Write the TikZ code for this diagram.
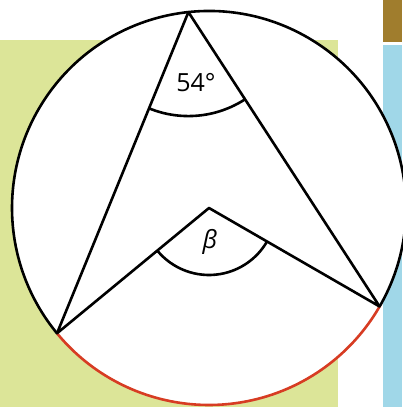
\documentclass[tikz,border=0pt]{standalone}
\usepackage{fontspec}
\newfontfamily\labelfont{Open Sans}
\usetikzlibrary{angles,calc}
\definecolor{bggreen}{RGB}{220,229,152}
\definecolor{bgblue}{RGB}{160,215,232}
\definecolor{bgbrown}{RGB}{160,125,45}
\definecolor{arcred}{RGB}{215,60,35}
\tikzset{
  edge/.style={line width=2.6pt, line join=round, draw=black},
  marker/.style={draw=black, line width=2.6pt},
  lbl/.style={font=\labelfont\fontsize{25}{30}\selectfont, inner sep=0pt}
}
\begin{document}
\begin{tikzpicture}[x=1pt,y=1pt]
\useasboundingbox (0,0) rectangle (402,407);
\fill[bggreen] (0,0) rectangle (338,367);
\fill[bgblue] (383,0) rectangle (402,362);
\fill[bgbrown] (383,365) rectangle (402,407);
\coordinate (O) at (209,199);
\fill[white] (O) circle[radius=197pt];
\coordinate (T) at ($(O)+(96:197pt)$);
\coordinate (L) at ($(O)+(219.5:197pt)$);
\coordinate (R) at ($(O)+(330:197pt)$);
\draw[edge] (R) arc[start angle=330, end angle=579.5, radius=197pt];
\draw[edge, draw=arcred] (L) arc[start angle=219.5, end angle=330, radius=197pt];
\draw[edge] (L) -- (T) -- (R) -- (O) -- cycle;
\pic[marker, angle radius=104pt] {angle=L--T--R};
\pic[marker, angle radius=67pt] {angle=L--O--R};
\node[lbl] (a54) at (196,324) {54°};
\node[lbl] (beta) at (210,165) {\itshape β};
\end{tikzpicture}
\end{document}
